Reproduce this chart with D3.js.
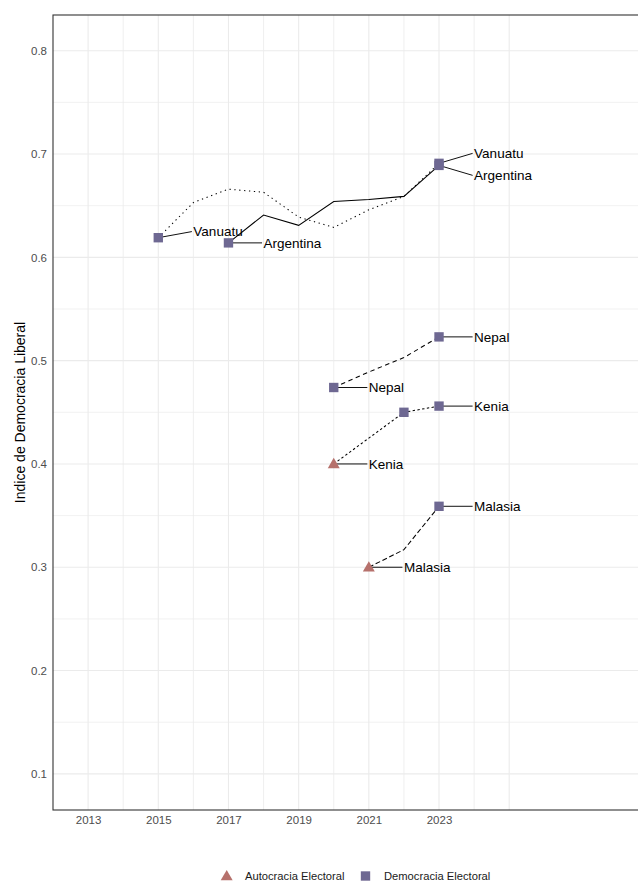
<!DOCTYPE html>
<html>
<head>
<meta charset="utf-8">
<script src="https://cdn.jsdelivr.net/npm/d3@7"></script>
<style>
  html, body { margin: 0; padding: 0; background: #fff; }
  svg { display: block; font-family: "Liberation Sans", Arial, Helvetica, sans-serif; }
</style>
</head>
<body>
<svg id="chart" width="638" height="881"></svg>
<script>
// ---------------- DATA ----------------
const countries = ["Vanuatu", "Argentina", "Nepal", "Kenia", "Malasia"];

const vanuatuYears   = [2015, 2016, 2017, 2018, 2019, 2020, 2021, 2022, 2023];
const vanuatuValues  = [0.619, 0.653, 0.666, 0.663, 0.639, 0.629, 0.646, 0.659, 0.691];
const vanuatuRegime  = ["D", "D", "D", "D", "D", "D", "D", "D", "D"];

const argentinaYears  = [2017, 2018, 2019, 2020, 2021, 2022, 2023];
const argentinaValues = [0.614, 0.641, 0.631, 0.654, 0.656, 0.659, 0.689];
const argentinaRegime = ["D", "D", "D", "D", "D", "D", "D"];

const nepalYears  = [2020, 2021, 2022, 2023];
const nepalValues = [0.474, 0.489, 0.503, 0.523];
const nepalRegime = ["D", "D", "D", "D"];

const keniaYears  = [2020, 2021, 2022, 2023];
const keniaValues = [0.400, 0.425, 0.450, 0.456];
const keniaRegime = ["A", "A", "D", "D"];

const malasiaYears  = [2021, 2022, 2023];
const malasiaValues = [0.300, 0.317, 0.359];
const malasiaRegime = ["A", "A", "D"];

const regimeCodes  = ["A", "D"];
const regimeLabels = ["Autocracia Electoral", "Democracia Electoral"];

const xTickLabels = [2013, 2015, 2017, 2019, 2021, 2023];
const xGridYears  = [2013, 2014, 2015, 2016, 2017, 2018, 2019, 2020, 2021, 2022, 2023, 2024, 2025];
const yTickLabels = [0.1, 0.2, 0.3, 0.4, 0.5, 0.6, 0.7, 0.8];
const yMinorTicks = [0.15, 0.25, 0.35, 0.45, 0.55, 0.65, 0.75];

const yAxisTitle = "Indice de Democracia Liberal";

// ---------------- STYLE / LAYOUT ----------------
const series = {
  "Vanuatu":   { years: vanuatuYears,   values: vanuatuValues,   regime: vanuatuRegime },
  "Argentina": { years: argentinaYears, values: argentinaValues, regime: argentinaRegime },
  "Nepal":     { years: nepalYears,     values: nepalValues,     regime: nepalRegime },
  "Kenia":     { years: keniaYears,     values: keniaValues,     regime: keniaRegime },
  "Malasia":   { years: malasiaYears,   values: malasiaValues,   regime: malasiaRegime }
};
const dashes = {
  "Argentina": null,
  "Kenia": "2.4,2.4",
  "Malasia": "5,2.6",
  "Nepal": "4.5,3.5",
  "Vanuatu": "1.3,3.6"
};
const regimeColor = { "A": "#B6716C", "D": "#6E6892" };

const panel = { left: 53, top: 15, right: 638, bottom: 810 };

const svg = d3.select("#chart");

const x = d3.scaleLinear().domain([2012, 2028.67]).range([panel.left, panel.right]);
const y = d3.scaleLinear().domain([0.065, 0.8346]).range([panel.bottom, panel.top]);

// grid
const grid = svg.append("g");
grid.selectAll("line.hminor").data(yMinorTicks).enter().append("line")
  .attr("x1", panel.left).attr("x2", panel.right)
  .attr("y1", d => y(d)).attr("y2", d => y(d))
  .attr("stroke", "#ededed").attr("stroke-width", 0.8);
grid.selectAll("line.hmajor").data(yTickLabels).enter().append("line")
  .attr("x1", panel.left).attr("x2", panel.right)
  .attr("y1", d => y(d)).attr("y2", d => y(d))
  .attr("stroke", "#ebebeb").attr("stroke-width", 1.1);
grid.selectAll("line.v").data(xGridYears).enter().append("line")
  .attr("x1", d => x(d)).attr("x2", d => x(d))
  .attr("y1", panel.top).attr("y2", panel.bottom)
  .attr("stroke", "#ebebeb").attr("stroke-width", d => (d % 2 ? 1.1 : 0.8));

// axes (text only)
const yAxis = d3.axisLeft(y).tickValues(yTickLabels).tickFormat(d3.format(".1f")).tickSize(0).tickPadding(6);
svg.append("g").attr("transform", `translate(${panel.left},0)`).call(yAxis)
  .call(g => g.select(".domain").remove())
  .call(g => g.selectAll("text").attr("font-size", "11.5px").attr("fill", "#4d4d4d")
     .attr("font-family", '"Liberation Sans", Arial, sans-serif'));

const xAxis = d3.axisBottom(x).tickValues(xTickLabels).tickFormat(d3.format("d")).tickSize(0).tickPadding(6);
svg.append("g").attr("transform", `translate(0,${panel.bottom})`).call(xAxis)
  .call(g => g.select(".domain").remove())
  .call(g => g.selectAll("text").attr("font-size", "11.5px").attr("fill", "#4d4d4d")
     .attr("font-family", '"Liberation Sans", Arial, sans-serif'));

// panel border
svg.append("rect")
  .attr("x", panel.left).attr("y", panel.top)
  .attr("width", panel.right - panel.left + 10).attr("height", panel.bottom - panel.top)
  .attr("fill", "none").attr("stroke", "#333").attr("stroke-width", 1.1);

// y axis title
svg.append("text")
  .attr("transform", `translate(20,${(panel.top + panel.bottom) / 2}) rotate(-90)`)
  .attr("text-anchor", "middle").attr("dy", "0.35em")
  .attr("font-size", "14px").attr("fill", "#000")
  .text(yAxisTitle);

// lines
const line = d3.line().x(d => x(d.year)).y(d => y(d.value));
const allPoints = [];
const labels = [];
countries.forEach(c => {
  const s = series[c];
  const pts = s.years.map((yr, i) => ({ year: yr, value: s.values[i], regime: s.regime[i], country: c }));
  svg.append("path").datum(pts)
    .attr("d", line).attr("fill", "none")
    .attr("stroke", "#000").attr("stroke-width", 1.05)
    .attr("stroke-dasharray", dashes[c]);
  pts.forEach((p, i) => {
    if (i === 0 || i === pts.length - 1 || p.regime !== pts[i - 1].regime) allPoints.push(p);
  });
  labels.push({ country: c, point: pts[0] });
  labels.push({ country: c, point: pts[pts.length - 1] });
});

// labels with a simple repel
const labelG = svg.append("g");
labels.forEach(l => {
  l.x = x(l.point.year + 1);
  l.y = y(l.point.value);
  l.px = x(l.point.year);
  l.py = y(l.point.value);
  l.node = labelG.append("text").attr("x", l.x).attr("font-size", "13.5px").attr("fill", "#000")
    .attr("dy", "0.35em").text(l.country);
  l.w = l.node.node().getComputedTextLength();
});
for (let it = 0; it < 60; it++) {
  for (let i = 0; i < labels.length; i++) {
    for (let j = i + 1; j < labels.length; j++) {
      const a = labels[i], b = labels[j];
      if (a.x + a.w < b.x || b.x + b.w < a.x) continue;
      const dy = b.y - a.y;
      const need = 22;
      if (Math.abs(dy) < need) {
        let dir = dy !== 0 ? Math.sign(dy) : (a.point.value >= b.point.value ? 1 : -1);
        const push = (need - Math.abs(dy)) / 2;
        a.y -= dir * push; b.y += dir * push;
      }
    }
    const a = labels[i];
    allPoints.forEach(p => {
      const px = x(p.year), py = y(p.value);
      if (p === a.point) return;
      if (a.x - 2 > px + 5 || a.x + a.w + 2 < px - 5) return;
      const dy = a.y - py;
      const need = 11.3;
      if (Math.abs(dy) < need) {
        const dir = dy !== 0 ? Math.sign(dy) : -1;
        a.y = py + dir * need;
      }
    });
  }
}
labels.forEach(l => {
  labelG.insert("line", "text")
    .attr("x1", l.px).attr("y1", l.py).attr("x2", l.x - 1.5).attr("y2", l.y)
    .attr("stroke", "#111").attr("stroke-width", 1);
  l.node.attr("y", l.y);
});

// markers
const triangle = d3.symbol().type(d3.symbolTriangle).size(62);
const square = d3.symbol().type(d3.symbolSquare).size(88);
svg.append("g").selectAll("path").data(allPoints).enter().append("path")
  .attr("transform", d => `translate(${x(d.year)},${y(d.value) + (d.regime === "A" ? 0.8 : 0)})`)
  .attr("d", d => (d.regime === "A" ? triangle() : square()))
  .attr("fill", d => regimeColor[d.regime]);

// legend
const legend = svg.append("g");
const legendY = 876;
const legendItems = [
  { code: regimeCodes[0], label: regimeLabels[0], sx: 226.7, tx: 245 },
  { code: regimeCodes[1], label: regimeLabels[1], sx: 365.5, tx: 384 }
];
legendItems.forEach(it => {
  legend.append("path")
    .attr("transform", `translate(${it.sx},${legendY + (it.code === "A" ? 0.8 : 0)})`)
    .attr("d", it.code === "A" ? triangle() : square())
    .attr("fill", regimeColor[it.code]);
  legend.append("text").attr("x", it.tx).attr("y", legendY).attr("dy", "0.35em")
    .attr("font-size", "11.2px").attr("fill", "#1a1a1a").text(it.label);
});
</script>
</body>
</html>
